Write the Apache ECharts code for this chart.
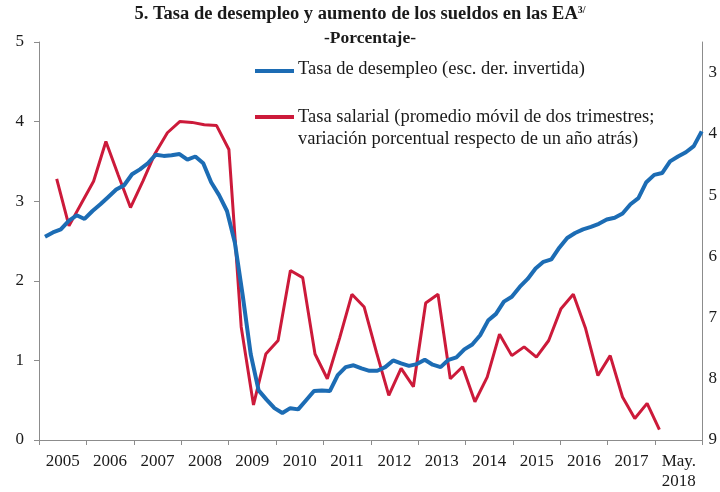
<!DOCTYPE html>
<html>
<head>
<meta charset="utf-8">
<script src="https://cdn.jsdelivr.net/npm/echarts@6/dist/echarts.min.js"></script>
<style>
  html, body { margin: 0; padding: 0; background: #fff; }
  #chart { width: 720px; height: 492px; }
</style>
</head>
<body>
<div id="chart"></div>
<script>
// year labels on the bottom axis
var yearLabels = ['2005', '2006', '2007', '2008', '2009', '2010', '2011', '2012',
  '2013', '2014', '2015', '2016', '2017', 'May.\n2018'];

// wage rate, quarterly, left axis (%)
var wageRate = [3.28, 2.69, 2.97, 3.25, 3.75, 3.33, 2.92, 3.25, 3.60, 3.86,
  4.00, 3.99, 3.96, 3.95, 3.65, 1.42, 0.44, 1.08, 1.25, 2.13,
  2.04, 1.08, 0.77, 1.28, 1.83, 1.67, 1.10, 0.56, 0.90, 0.67,
  1.72, 1.83, 0.77, 0.92, 0.48, 0.79, 1.33, 1.06, 1.17, 1.04,
  1.25, 1.65, 1.83, 1.40, 0.81, 1.06, 0.54, 0.27, 0.46, 0.13];

// unemployment rate, right axis inverted (%)
var unemployment = [5.68, 5.61, 5.56, 5.42, 5.33, 5.39, 5.26, 5.15, 5.03, 4.91,
  4.84, 4.66, 4.58, 4.48, 4.34, 4.36, 4.35, 4.33, 4.42, 4.37,
  4.48, 4.79, 5.00, 5.26, 5.78, 6.65, 7.60, 8.19, 8.34, 8.48,
  8.56, 8.48, 8.50, 8.35, 8.20, 8.19, 8.20, 7.94, 7.81, 7.78,
  7.83, 7.87, 7.87, 7.81, 7.70, 7.75, 7.79, 7.76, 7.69, 7.77,
  7.81, 7.69, 7.65, 7.52, 7.44, 7.29, 7.05, 6.94, 6.74, 6.66,
  6.50, 6.37, 6.20, 6.09, 6.05, 5.86, 5.70, 5.62, 5.56, 5.52,
  5.47, 5.40, 5.37, 5.30, 5.15, 5.05, 4.79, 4.67, 4.64, 4.45,
  4.37, 4.30, 4.20, 3.96];

var leftTicks = [0, 5, 1];      // min, max, step
var rightTicks = [2.5, 9, 0.5]; // min, max, step (labels only on whole numbers)

var serif = "'Liberation Serif', 'Times New Roman', serif";
var ink = '#1a1a1a';
var axisGray = '#8c8c8c';
var blue = '#1c6cb4';
var red = '#cc1a3a';

var chart = echarts.init(document.getElementById('chart'), null, { renderer: 'canvas' });

var gridTop = 42, gridBottom = 52;

chart.setOption({
  animation: false,
  backgroundColor: '#fff',
  title: [{
    text: '5. Tasa de desempleo y aumento de los sueldos en las EA{sup|3/}',
    left: 'center', top: 0,
    textStyle: {
      fontFamily: serif, fontSize: 18.5, fontWeight: 'bold', color: ink,
      rich: { sup: { fontFamily: serif, fontSize: 10, fontWeight: 'bold', color: ink, verticalAlign: 'top', padding: [0, 0, 9, 0] } }
    }
  }, {
    text: '-Porcentaje-',
    left: 365, top: 24, textAlign: 'center',
    textStyle: { fontFamily: serif, fontSize: 17.5, fontWeight: 'bold', color: ink }
  }],
  grid: [
    { left: 39, right: 16, top: gridTop, bottom: gridBottom },
    { left: 56.7, right: 60.6, top: gridTop, bottom: gridBottom },
    { left: 45, right: 18.3, top: gridTop, bottom: gridBottom }
  ],
  xAxis: [{
    type: 'category', gridIndex: 0, data: yearLabels, boundaryGap: true,
    axisLine: { lineStyle: { color: axisGray, width: 1 } },
    axisTick: { show: true, length: 5, lineStyle: { color: axisGray } },
    axisLabel: { interval: 0, margin: 12, fontFamily: serif, fontSize: 17, color: ink, lineHeight: 20 }
  }, {
    type: 'category', gridIndex: 1, show: false, boundaryGap: false,
    data: wageRate.map(function(v, i) { return 'q' + i; })
  }, {
    type: 'category', gridIndex: 2, show: false, boundaryGap: false,
    data: unemployment.map(function(v, i) { return 'm' + i; })
  }],
  yAxis: [{
    type: 'value', gridIndex: 0, min: leftTicks[0], max: leftTicks[1], interval: leftTicks[2],
    axisLine: { show: true, lineStyle: { color: axisGray } },
    axisTick: { show: true, length: 5, lineStyle: { color: axisGray } },
    splitLine: { show: false },
    axisLabel: { margin: 15, fontFamily: serif, fontSize: 17, color: ink }
  }, {
    type: 'value', gridIndex: 0, position: 'right', inverse: true,
    min: rightTicks[0], max: rightTicks[1], interval: rightTicks[2],
    axisLine: { show: true, lineStyle: { color: axisGray } },
    axisTick: { show: false },
    splitLine: { show: false },
    axisLabel: {
      margin: 6, fontFamily: serif, fontSize: 17, color: ink,
      formatter: function(v) { return v % 1 === 0 ? String(v) : ''; }
    }
  }, {
    type: 'value', gridIndex: 1, show: false, min: leftTicks[0], max: leftTicks[1]
  }, {
    type: 'value', gridIndex: 2, show: false, inverse: true, min: rightTicks[0], max: rightTicks[1]
  }],
  series: [{
    name: 'Tasa salarial', type: 'line', xAxisIndex: 1, yAxisIndex: 2,
    data: wageRate, showSymbol: false, z: 2,
    lineStyle: { color: red, width: 3 }
  }, {
    name: 'Tasa de desempleo', type: 'line', xAxisIndex: 2, yAxisIndex: 3,
    data: unemployment, showSymbol: false, z: 3,
    lineStyle: { color: blue, width: 4 }
  }],
  graphic: [
    { type: 'line', shape: { x1: 255, y1: 71, x2: 294, y2: 71 }, style: { stroke: blue, lineWidth: 4 } },
    { type: 'text', left: 298, top: 60, style: { text: 'Tasa de desempleo (esc. der. invertida)', font: '18.5px ' + serif, fill: ink } },
    { type: 'line', shape: { x1: 255, y1: 117, x2: 294, y2: 117 }, style: { stroke: red, lineWidth: 4 } },
    { type: 'text', left: 298, top: 106, style: {
      text: 'Tasa salarial (promedio móvil de dos trimestres;\nvariación porcentual respecto de un año atrás)',
      font: '18.5px ' + serif, fill: ink, lineHeight: 22 } }
  ]
});
</script>
</body>
</html>
